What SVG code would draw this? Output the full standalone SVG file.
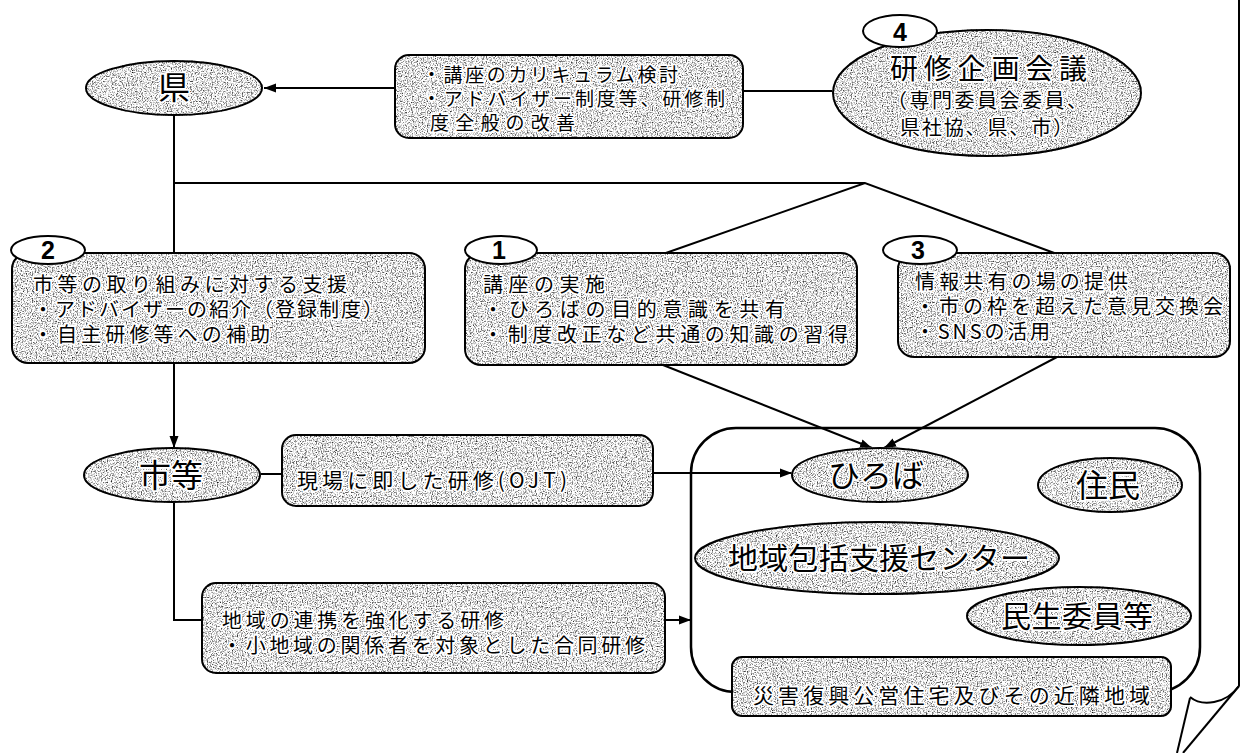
<svg xmlns="http://www.w3.org/2000/svg" width="1242" height="753" viewBox="0 0 1242 753">
<defs>
<filter id="grain" color-interpolation-filters="sRGB" x="-5%" y="-10%" width="110%" height="120%">
<feTurbulence type="fractalNoise" baseFrequency="0.8" numOctaves="2" seed="4" result="n"/>
<feColorMatrix in="n" type="matrix" values="1 0 0 0 0 1 0 0 0 0 1 0 0 0 0 0 0 0 0 1" result="g"/>
<feComponentTransfer in="g" result="d">
<feFuncR type="linear" slope="2.2" intercept="-0.2"/>
<feFuncG type="linear" slope="2.2" intercept="-0.2"/>
<feFuncB type="linear" slope="2.2" intercept="-0.2"/>
</feComponentTransfer>
<feComposite in="d" in2="SourceAlpha" operator="in" result="t"/>
<feBlend in="t" in2="SourceGraphic" mode="multiply"/>
</filter>
<marker id="ah" viewBox="0 0 12 10" refX="12" refY="5" markerWidth="12" markerHeight="10" markerUnits="userSpaceOnUse" orient="auto">
<path d="M0,0.5 L12,5 L0,9.5 z" fill="#000"/>
</marker>
<style>
.tex{fill:#fff;stroke:#000;stroke-width:2;filter:url(#grain)}
.lab{fill:#fff;stroke:#000;stroke-width:2}
.t{font-family:"Noto Sans CJK JP","Noto Sans CJK SC",sans-serif;fill:#000;stroke:#fff;stroke-width:3.5px;paint-order:stroke;stroke-linejoin:round}
.s19{font-size:19px}
.s20{font-size:20px}
.s21{font-size:21px}
.s28{font-size:28px}
.s30{font-size:30px}
.s32{font-size:32px}
.mid{text-anchor:middle}
.num{font-family:"Liberation Sans",Arial,sans-serif;font-weight:bold;font-size:25px;fill:#000;text-anchor:middle}
.ln{fill:none;stroke:#000;stroke-width:2}
</style>
</defs>
<rect width="1242" height="753" fill="#fff"/>

<g id="frame" class="ln">
<path d="M1239,0 L1239,686"/>
<path d="M1239,686 C1226,704 1202,707 1190,697"/>
<path d="M1190,698 L1177,753"/>
<path d="M1239,686 L1183,753"/>
</g>

<g id="area">
<rect x="691" y="428" width="509" height="264" rx="45" fill="none" stroke="#000" stroke-width="2.5"/>
</g>

<g id="connectors" class="ln">
<line x1="395" y1="88" x2="264" y2="88" marker-end="url(#ah)"/>
<line x1="743" y1="91" x2="834" y2="91"/>
<line x1="174" y1="116" x2="174" y2="448" marker-end="url(#ah)"/>
<line x1="174" y1="183" x2="865" y2="183"/>
<polyline points="663,254 865,183 1057,254"/>
<line x1="663" y1="365" x2="872" y2="448" marker-end="url(#ah)"/>
<line x1="1057" y1="357" x2="884" y2="448" marker-end="url(#ah)"/>
<line x1="259" y1="474" x2="282" y2="474"/>
<line x1="653" y1="473" x2="792" y2="473" marker-end="url(#ah)"/>
<polyline points="174,502 174,620 202,620"/>
<line x1="665" y1="620" x2="691" y2="620" marker-end="url(#ah)"/>
</g>

<g id="ken">
<ellipse class="tex" cx="174" cy="88" rx="88" ry="27"/>
<text class="t s32 mid" x="174" y="99">県</text>
</g>

<g id="review">
<rect class="tex" x="395" y="55" width="348" height="83" rx="14"/>
<text class="t s19" x="422" y="82" textLength="256" lengthAdjust="spacing">・講座のカリキュラム検討</text>
<text class="t s19" x="422" y="106" textLength="303" lengthAdjust="spacing">・アドバイザー制度等、研修制</text>
<text class="t s19" x="430" y="130" textLength="145" lengthAdjust="spacing">度全般の改善</text>
</g>

<g id="node4">
<ellipse class="tex" cx="987" cy="93" rx="154" ry="63"/>
<text class="t s28" x="890" y="79" textLength="197" lengthAdjust="spacing">研修企画会議</text>
<text class="t s20" x="887" y="108" textLength="200" lengthAdjust="spacing">（専門委員会委員、</text>
<text class="t s20" x="900" y="135" textLength="173" lengthAdjust="spacing">県社協、県、市）</text>
<ellipse class="lab" cx="900" cy="31" rx="37" ry="16"/>
<text class="num" x="900" y="41">4</text>
</g>

<g id="node2">
<rect class="tex" x="12" y="253" width="413" height="110" rx="16"/>
<text class="t s20" x="33" y="292" textLength="314" lengthAdjust="spacing">市等の取り組みに対する支援</text>
<text class="t s20" x="33" y="317" textLength="350" lengthAdjust="spacing">・アドバイザーの紹介（登録制度）</text>
<text class="t s20" x="33" y="342" textLength="237" lengthAdjust="spacing">・自主研修等への補助</text>
<ellipse class="lab" cx="48" cy="250" rx="37" ry="14"/>
<text class="num" x="48" y="259">2</text>
</g>

<g id="node1">
<rect class="tex" x="465" y="253" width="392" height="112" rx="16"/>
<text class="t s20" x="483" y="292" textLength="122" lengthAdjust="spacing">講座の実施</text>
<text class="t s20" x="483" y="317" textLength="302" lengthAdjust="spacing">・ひろばの目的意識を共有</text>
<text class="t s20" x="483" y="342" textLength="365" lengthAdjust="spacing">・制度改正など共通の知識の習得</text>
<ellipse class="lab" cx="501" cy="250" rx="36" ry="14"/>
<text class="num" x="499" y="259">1</text>
</g>

<g id="node3">
<rect class="tex" x="898" y="253" width="332" height="104" rx="16"/>
<text class="t s20" x="915" y="289" textLength="213" lengthAdjust="spacing">情報共有の場の提供</text>
<text class="t s20" x="915" y="314" textLength="308" lengthAdjust="spacing">・市の枠を超えた意見交換会</text>
<text class="t s20" x="915" y="339" textLength="135" lengthAdjust="spacing">・SNSの活用</text>
<ellipse class="lab" cx="920" cy="250" rx="37" ry="14"/>
<text class="num" x="918" y="259">3</text>
</g>

<g id="shito">
<ellipse class="tex" cx="172" cy="475" rx="88" ry="27"/>
<text class="t s32 mid" x="171" y="487">市等</text>
</g>

<g id="ojt">
<rect class="tex" x="282" y="435" width="371" height="71" rx="14"/>
<text class="t s21" x="297" y="488" textLength="270" lengthAdjust="spacing">現場に即した研修(OJT)</text>
</g>

<g id="local">
<rect class="tex" x="202" y="583" width="463" height="90" rx="14"/>
<text class="t s20" x="222" y="628" textLength="282" lengthAdjust="spacing">地域の連携を強化する研修</text>
<text class="t s20" x="222" y="653" textLength="423" lengthAdjust="spacing">・小地域の関係者を対象とした合同研修</text>
</g>

<g id="hiroba">
<ellipse class="tex" cx="880" cy="475" rx="88" ry="27"/>
<text class="t s32 mid" x="876" y="487">ひろば</text>
</g>

<g id="jumin">
<ellipse class="tex" cx="1110" cy="485" rx="72" ry="27"/>
<text class="t s32 mid" x="1108" y="497">住民</text>
</g>

<g id="center">
<ellipse class="tex" cx="877" cy="558" rx="182" ry="36"/>
<text class="t s30" x="728" y="569" textLength="302" lengthAdjust="spacing">地域包括支援センター</text>
</g>

<g id="minsei">
<ellipse class="tex" cx="1079" cy="616" rx="112" ry="29"/>
<text class="t s30" x="1001" y="627" textLength="152" lengthAdjust="spacing">民生委員等</text>
</g>

<g id="saigai">
<rect class="tex" x="732" y="657" width="439" height="59" rx="10"/>
<text class="t s21" x="753" y="703" textLength="397" lengthAdjust="spacing">災害復興公営住宅及びその近隣地域</text>
</g>
</svg>
